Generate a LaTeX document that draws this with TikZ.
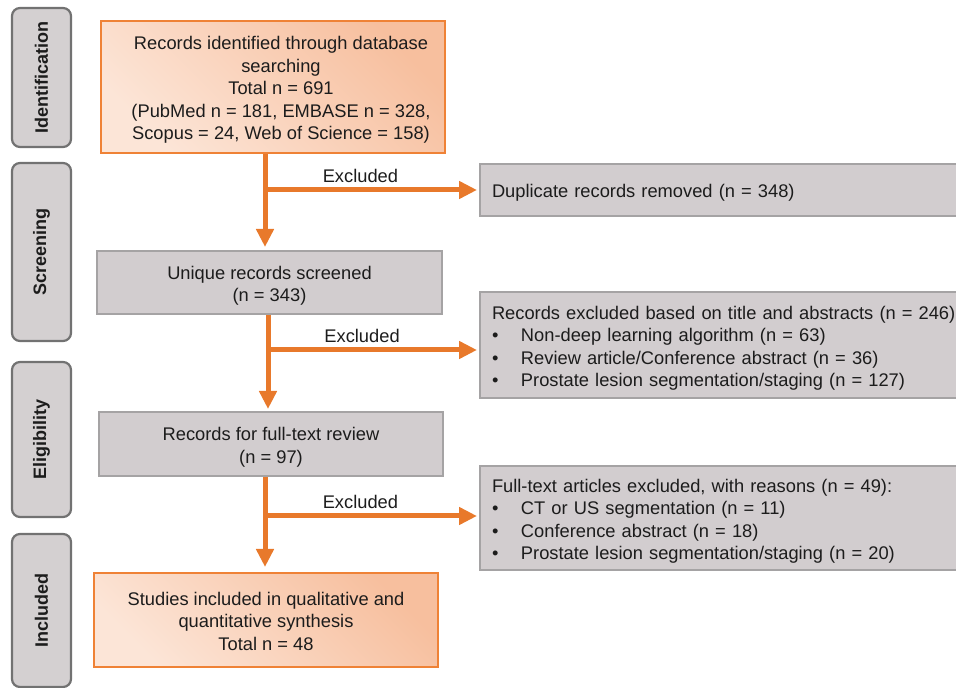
\documentclass[tikz,border=0pt]{standalone}
\usepackage{graphicx}
\usepackage{fontspec}
\setmainfont{Liberation Sans}
\usetikzlibrary{arrows.meta,calc}
\definecolor{arrorange}{HTML}{E8792B}
\definecolor{boxorange}{HTML}{EF8236}
\definecolor{peachD}{HTML}{F7BF9E}
\definecolor{peachL}{HTML}{FCE5D7}
\definecolor{grayfill}{HTML}{D2CDCF}
\definecolor{grayline}{HTML}{A5A3A4}
\definecolor{sidefill}{HTML}{D4D0D1}
\definecolor{sideline}{HTML}{727272}
\definecolor{txt}{HTML}{1C1C1C}
\newcommand\mybul{\makebox[29pt][l]{\textbullet}}
\newcommand\boxlines[2]{\raisebox{-3.5pt}[\height][\depth]{\begin{tabular}{@{}#1@{}}#2\end{tabular}}}
\begin{document}
\begin{tikzpicture}[x=1pt,y=1pt,
  every node/.style={text=txt},
  maintext/.style={font=\fontsize{18.3}{22.5}\selectfont},
  sidebox/.style={draw=sideline, line width=2.2pt, fill=sidefill, rounded corners=8pt,
    minimum width=59pt, font=\fontsize{18}{22}\selectfont\bfseries, inner sep=0pt},
  orangebox/.style={draw=boxorange, line width=2pt, top color=peachD, bottom color=peachL,
    shading angle=-45, maintext, inner sep=0pt},
  graybox/.style={draw=grayline, line width=2pt, fill=grayfill, maintext, inner sep=0pt},
  sidegray/.style={graybox, anchor=west, inner xsep=12pt, inner ysep=0pt,
    text width=497pt, minimum width=521pt},
  flow/.style={draw=arrorange, line width=5pt, -{Triangle[length=18pt,width=17pt]}},
  exlabel/.style={maintext, above=5pt, inner sep=0pt, pos=0.45}]
\useasboundingbox (0,0) rectangle (956,688);
\clip (0,0) rectangle (956,688);

% phase labels
\node[sidebox, minimum height=139pt] (sid) at (41.5,610.5) {\rotatebox{90}{Identification}};
\node[sidebox, minimum height=178pt] (sscr) at (41.5,436) {\rotatebox{90}{Screening}};
\node[sidebox, minimum height=155pt] (selig) at (41.5,248.5) {\rotatebox{90}{Eligibility}};
\node[sidebox, minimum height=153pt] (sincl) at (41.5,77.5) {\rotatebox{90}{Included}};

% main column
\node[orangebox, minimum width=344pt, minimum height=132pt] (ident) at (273,601)
  {\hspace*{16pt}\boxlines{c}{Records identified through database\\searching\\Total n = 691\\(PubMed n = 181, EMBASE n = 328,\\Scopus = 24, Web of Science = 158)}};
\node[graybox, minimum width=345pt, minimum height=63pt] (screen) at (269.5,405.5)
  {\boxlines{c}{Unique records screened\\(n = 343)}};
\node[graybox, minimum width=344pt, minimum height=64pt] (full) at (271,244)
  {\boxlines{c}{Records for full-text review\\(n = 97)}};
\node[orangebox, minimum width=344pt, minimum height=94pt] (incl) at (266,68)
  {\boxlines{c}{Studies included in qualitative and\\quantitative synthesis\\Total n = 48}};

% exclusion boxes
\node[sidegray, minimum height=52pt] (dup) at (479,498)
  {\boxlines{l}{Duplicate records removed (n = 348)}};
\node[sidegray, minimum height=106pt] (ex1) at (479,343)
  {\boxlines{l}{Records excluded based on title and abstracts (n = 246)\\
   \mybul Non-deep learning algorithm (n = 63)\\
   \mybul Review article/Conference abstract (n = 36)\\
   \mybul Prostate lesion segmentation/staging (n = 127)}};
\node[sidegray, minimum height=104pt] (ex2) at (479,170)
  {\boxlines{l}{Full-text articles excluded, with reasons (n = 49):\\
   \mybul CT or US segmentation (n = 11)\\
   \mybul Conference abstract (n = 18)\\
   \mybul Prostate lesion segmentation/staging (n = 20)}};

% connectors
\coordinate (xa) at (265,0);
\coordinate (xb) at (268,0);
\coordinate (xc) at (265,0);
\draw[flow] (ident.south -| xa) -- ([yshift=3pt]screen.north -| xa);
\draw[flow] (dup.west -| xa) -- node[exlabel] {Excluded} ([xshift=-2pt]dup.west);
\draw[flow] (screen.south -| xb) -- ([yshift=2pt]full.north -| xb);
\draw[flow] ([yshift=-5pt]ex1.west -| xb) -- node[exlabel] {Excluded} ([xshift=-2pt,yshift=-5pt]ex1.west);
\draw[flow] (full.south -| xc) -- ([yshift=5pt]incl.north -| xc);
\draw[flow] ([yshift=2pt]ex2.west -| xc) -- node[exlabel] {Excluded} ([xshift=-2pt,yshift=2pt]ex2.west);
\end{tikzpicture}
\end{document}
